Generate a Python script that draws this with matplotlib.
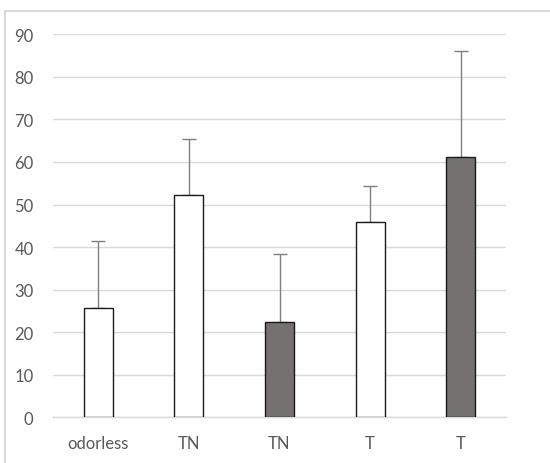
import matplotlib
matplotlib.use('Agg')
import matplotlib.pyplot as plt
from matplotlib.patches import Rectangle
import numpy as np

labels = ['odorless', 'TN', 'TN', 'T', 'T']
means = [25.6, 52.3, 22.5, 45.8, 61.1]
errors = [15.8, 13.1, 15.9, 8.6, 25.0]
fills = ['white', 'white', '#767171', 'white', '#767171']

plt.rcParams['font.family'] = ['Lato', 'DejaVu Sans']

fig = plt.figure(figsize=(5.5, 4.64), dpi=100)
ax = fig.add_axes([53 / 550, 1 - 418.3 / 464, 453 / 550, 383 / 464])

x = np.arange(len(labels))
ax.bar(x, means, width=0.32, color=fills, edgecolor='#1a1a1a', linewidth=1.0, zorder=3)
ax.errorbar(x, means, yerr=[np.zeros(len(errors)), errors], fmt='none',
            ecolor='#7f7f7f', elinewidth=1.0, capsize=5, capthick=1.0, zorder=2)

ax.set_xlim(-0.5, len(labels) - 0.5)
ax.set_ylim(0, 90)
ax.set_yticks(np.arange(0, 91, 10))
ax.set_xticks(x)
ax.set_xticklabels(labels)
ax.yaxis.grid(True, color='#d9d9d9', linewidth=1.0, zorder=0)
ax.set_axisbelow(True)
for s in ['top', 'right', 'left']:
    ax.spines[s].set_visible(False)
ax.spines['bottom'].set_color('#d9d9d9')
ax.spines['bottom'].set_linewidth(1.0)
ax.tick_params(axis='both', length=0, labelsize=12, colors='#595959')
ax.tick_params(axis='y', pad=14)
ax.tick_params(axis='x', pad=13)

# light grey chart-area border (cropped at the right and bottom)
fig.patches.append(Rectangle((5 / 550, -0.1), 1.2, 1 - 12 / 464 + 0.1,
                             transform=fig.transFigure, fill=False,
                             edgecolor='#d9d9d9', linewidth=1.5))

fig.savefig('out.png', dpi=100)
